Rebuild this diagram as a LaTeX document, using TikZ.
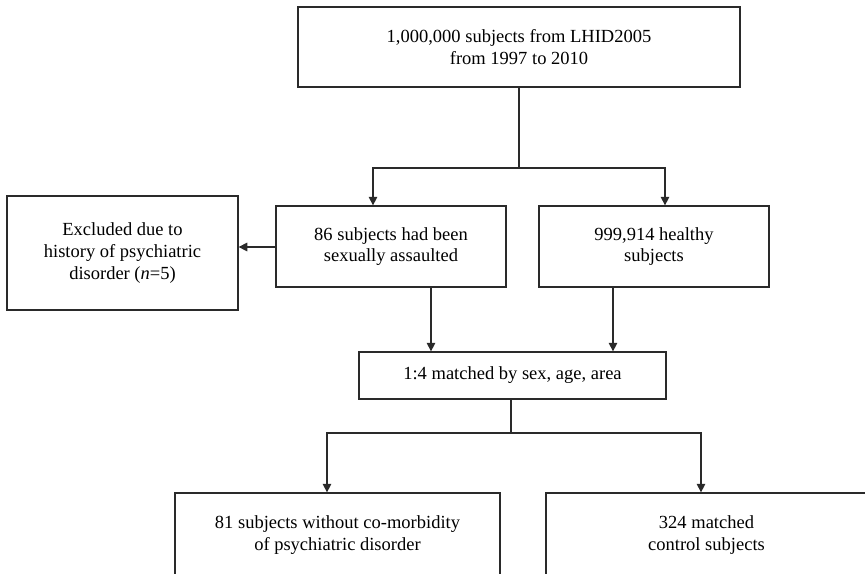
\documentclass[tikz,border=0pt]{standalone}
\usepackage{fontspec}
\setmainfont{Liberation Serif}
\usepackage{tikz}
\usetikzlibrary{arrows.meta,positioning,calc}
\definecolor{lineblack}{HTML}{2A2A2A}

\begin{document}
\begin{tikzpicture}[
  x=0.5pt, y=-0.5pt,
  every node/.style={draw=lineblack, line width=0.65pt, align=center, inner sep=0pt, font=\fontsize{9.25}{10.8}\selectfont},
  arr/.style={-{Triangle[length=4.3pt, width=4.3pt]}, line width=0.65pt, draw=lineblack},
  ln/.style={line width=0.65pt, draw=lineblack},
]
  \useasboundingbox (0,0) rectangle (865,573);
  \clip (0,0) rectangle (865,573);

  % Source population
  \node[minimum width=221pt, minimum height=40pt] (top) at (519,47)
    {1,000,000 subjects from LHID2005\\from 1997 to 2010};

  % Second row
  \node[minimum width=115pt, minimum height=40.5pt] (assault) at (391,246.5)
    {86 subjects had been\\sexually assaulted};
  \node[minimum width=115pt, minimum height=40.5pt] (healthy) at (654,246.5)
    {999,914 healthy\\subjects};
  \node[minimum width=115.5pt, minimum height=57pt] (excl) at (122.5,253)
    {Excluded due to\\history of psychiatric\\disorder (\textit{n}=5)};

  % Matching
  \node[minimum width=153.5pt, minimum height=23.5pt] (match) at (512.5,375.5)
    {1:4 matched by sex, age, area};

  % Study groups (cut by the page edge)
  \node[minimum width=162.5pt, minimum height=42pt] (cases) at (337.5,535)
    {81 subjects without co-morbidity\\of psychiatric disorder};
  \node[minimum width=160.5pt, minimum height=42pt] (controls) at (706.5,535)
    {324 matched\\control subjects};

  % Split bars
  \coordinate (b1) at (0,168);
  \coordinate (b2) at (0,433);
  \coordinate (m) at ([xshift=-0.75pt]match.south);

  % Edges
  \draw[ln] (top) -- (top |- b1);
  \draw[arr] (top |- b1) -| ([xshift=-9pt]assault.north);
  \draw[arr] (top |- b1) -| ([xshift=5.5pt]healthy.north);
  \draw[arr] ([yshift=-0.25pt]assault.west) -- ([yshift=-0.25pt]assault.west -| excl.east);
  \draw[arr] ([xshift=20pt]assault.south) -- ([xshift=20pt]assault.south |- match.north);
  \draw[arr] ([xshift=-20.5pt]healthy.south) -- ([xshift=-20.5pt]healthy.south |- match.north);
  \draw[ln] (m) -- (m |- b2);
  \draw[arr] (m |- b2) -| ([xshift=-5.25pt]cases.north);
  \draw[arr] (m |- b2) -| ([xshift=-2.75pt]controls.north);
\end{tikzpicture}
\end{document}
